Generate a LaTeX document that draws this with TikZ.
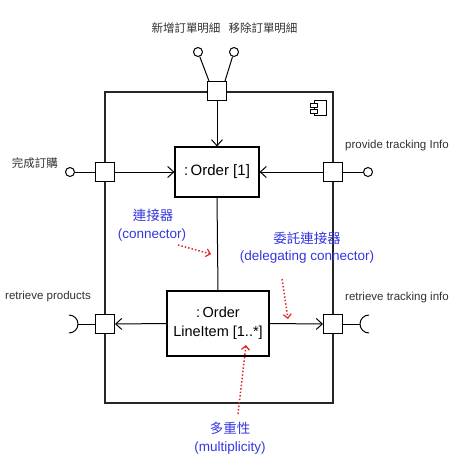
\documentclass[tikz,border=0pt]{standalone}
\usepackage{fontspec}
\setmainfont{Liberation Sans}
\newfontfamily\cjk{Noto Sans CJK TC}
\usetikzlibrary{arrows.meta}
\definecolor{lbl}{RGB}{50,50,50}
\definecolor{note}{RGB}{55,55,225}
\definecolor{redarr}{RGB}{225,40,40}
\begin{document}
\begin{tikzpicture}[x=1pt,y=-1pt,
  line width=1pt,
  every node/.style={text=black},
  comp/.style={draw=black!85, line width=1.3pt, minimum width=228pt, minimum height=311pt, inner sep=0pt},
  port/.style={draw, fill=white, line width=1pt, minimum size=19pt, inner sep=0pt},
  part/.style={draw, line width=1.2pt, inner sep=2pt, align=center},
  lolli/.style={draw, fill=white, circle, minimum size=9pt, inner sep=0pt},
  lbltext/.style={text=lbl, font=\fontsize{11.5}{13}\selectfont},
  cjklbl/.style={text=lbl, font=\cjk\fontsize{11.5}{13}\selectfont},
  notecjk/.style={text=note, font=\cjk\fontsize{13.5}{16}\selectfont},
  noteen/.style={text=note, font=\fontsize{13.5}{16}\selectfont},
  conn/.style={-{Straight Barb[length=6pt,width=11pt,line width=1pt]}},
  redp/.style={draw=redarr, dotted, line width=1.5pt, -{Straight Barb[length=4pt,width=8pt,line width=1.2pt]}}
]
\useasboundingbox[fill=white] (0,0) rectangle (460,475);

% component
\node[comp] (comp) at (219,247.5) {};
% component icon
\draw[line width=0.7pt] (314,100) rectangle (326,115);
\draw[line width=0.7pt, fill=white] (310,103) rectangle (317,107);
\draw[line width=0.7pt, fill=white] (310,109) rectangle (317,113);

% parts
\node[part, minimum width=84pt, minimum height=50pt, font=\fontsize{15}{18}\selectfont] (order) at (217,172) {:\,Order [1]};
\node[part, minimum width=102pt, minimum height=65pt, font=\fontsize{14.5}{19}\selectfont] (li) at (218,323.5) {:\,Order\\LineItem [1..*]};

% ports
\node[port] (pt) at (217,91) {};
\node[port] (pl) at (105,172) {};
\node[port] (pr) at (333,172) {};
\node[port] (pbl) at (105,324) {};
\node[port] (pbr) at (333,324) {};

% provided interfaces (lollipops)
\node[lolli] (lt1) at (198,52) {};
\node[lolli] (lt2) at (234,52) {};
\node[lolli] (ll) at (70,172) {};
\node[lolli] (lr) at (368,172) {};
\draw ([xshift=2pt]pt.north west) -- (lt1);
\draw ([xshift=-2pt]pt.north east) -- (lt2);
\draw (pl.west) -- (ll);
\draw (pr.east) -- (lr);

% required interfaces (sockets)
\coordinate (sl) at (78,324);
\coordinate (sr) at (360,324);
\draw (pbl.west) -- (sl);
\draw (pbr.east) -- (sr);
\draw (sl) arc[start angle=0, end angle=90, radius=9];
\draw (sl) arc[start angle=0, end angle=-90, radius=9];
\draw (sr) arc[start angle=180, end angle=90, radius=9];
\draw (sr) arc[start angle=180, end angle=270, radius=9];

% delegation connectors
\draw[conn] (pt.south) -- (order.north);
\draw[conn] (pl.east) -- (order.west);
\draw[conn] (pr.west) -- (order.east);
\draw[conn] (li.west) -- (pbl.east);
\draw[conn] (li.east) -- (pbr.west);
% assembly connector
\draw (order.south) -- (li.north);

% interface labels
\node[cjklbl] (t1) at (186,28) {新增訂單明細};
\node[cjklbl] (t2) at (263,28) {移除訂單明細};
\node[cjklbl] (t3) at (35,163) {完成訂購};
\node[lbltext] (t4) at (397,146) {provide tracking Info};
\node[lbltext] (t5) at (48,297) {retrieve products};
\node[lbltext] (t6) at (397,298) {retrieve tracking info};

% notes
\node[notecjk] (n1a) at (153,215) {連接器};
\node[noteen] (n1b) at (152,235) {(connector)};
\node[notecjk] (n2a) at (307,238) {委託連接器};
\node[noteen] (n2b) at (307,257) {(delegating connector)};
\node[notecjk] (n3a) at (230,428) {多重性};
\node[noteen] (n3b) at (230,448) {(multiplicity)};

% red pointer arrows
\coordinate (r1s) at (178,245);
\coordinate (r1e) at (211,254);
\coordinate (r2s) at (282,279);
\coordinate (r2e) at (288,319);
\coordinate (r3s) at (238,414);
\coordinate (r3e) at (246,345);
\draw[redp] (r1s) -- (r1e);
\draw[redp] (r2s) -- (r2e);
\draw[redp] (r3s) -- (r3e);
\end{tikzpicture}
\end{document}
